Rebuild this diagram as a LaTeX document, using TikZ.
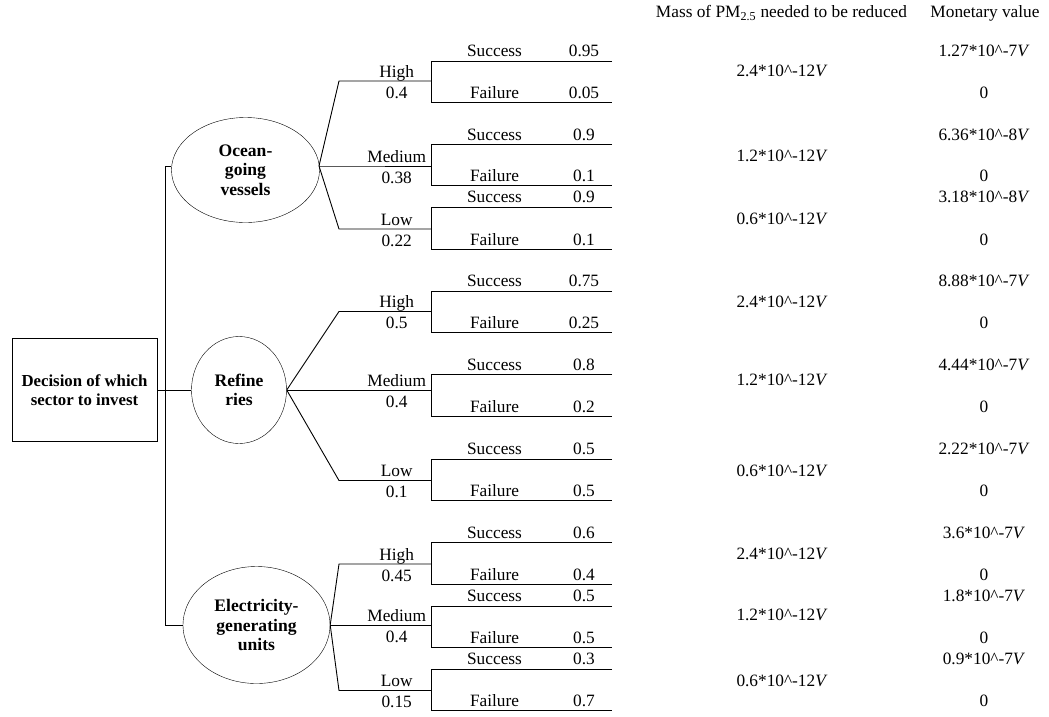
\documentclass[tikz,border=0pt]{standalone}
\usepackage{fontspec}
\setmainfont{Liberation Serif}
\usetikzlibrary{shapes.geometric}
\tikzset{
  txt/.style={font=\fontsize{17.3}{19}\selectfont, inner sep=0pt, anchor=base},
  chance/.style={draw, ellipse, inner sep=0pt, align=center, font=\fontsize{17.6}{19.5}\selectfont\bfseries},
  decbox/.style={draw, rectangle, inner sep=0pt, align=center, font=\fontsize{16.8}{18.5}\selectfont\bfseries},
  ln/.style={draw=black, line width=0.9pt},
}
\begin{document}
\begin{tikzpicture}[x=1pt, y=-1pt]
\useasboundingbox (0,0) rectangle (1049,716);
% headers
\node[txt] (hmass) at (781.5,17.5) {Mass of PM\textsubscript{2.5} needed to be reduced};
\node[txt] (hmon) at (985,17.5) {Monetary value};
% decision box and chance nodes
\node[decbox, minimum width=145pt, minimum height=103pt] (dec) at (84.5,390) {Decision of which\\sector to invest};
\node[chance, minimum width=148pt, minimum height=105pt] (ocean) at (245.5,170) {Ocean-\\going\\vessels};
\node[chance, minimum width=95pt, minimum height=107pt] (ref) at (239,390) {Refine\\ries};
\node[chance, minimum width=147pt, minimum height=117pt] (elec) at (256.5,625) {Electricity-\\generating\\units};
\coordinate (trunkTop) at (165.5,166);
\coordinate (trunkBot) at (165.5,625);
\coordinate (ocean-r) at (319,166);
\coordinate (ref-r) at (ref.east);
\coordinate (elec-r) at (elec.east);
\draw[ln] (trunkTop -| ocean.west) -- (trunkTop) -- (trunkBot) -- (elec.west);
\draw[ln] (dec.east) -- (ref.west);
% branches
\foreach \nm/\rt/\yl/\yt/\yb/\lvl/\p/\ps/\pf/\mass/\mon/\ex in {
  oh/ocean/81/61/102/High/0.4/0.95/0.05/2.4/1.27/7,
  om/ocean/166/144.5/185.5/Medium/0.38/0.9/0.1/1.2/6.36/8,
  ol/ocean/229/207/249/Low/0.22/0.9/0.1/0.6/3.18/8,
  rh/ref/311.5/291/332/High/0.5/0.75/0.25/2.4/8.88/7,
  rm/ref/390/374.5/416/Medium/0.4/0.8/0.2/1.2/4.44/7,
  rl/ref/480.5/459/500.5/Low/0.1/0.5/0.5/0.6/2.22/7,
  eh/elec/564/542.5/584.5/High/0.45/0.6/0.4/2.4/3.6/7,
  em/elec/625/606/647.5/Medium/0.4/0.5/0.5/1.2/1.8/7,
  el/elec/690.5/669/710/Low/0.15/0.3/0.7/0.6/0.9/7}{
  \coordinate (\nm-k) at (339,\yl);
  \coordinate (\nm-j) at (431.5,\yl);
  \coordinate (\nm-t) at (431.5,\yt);
  \coordinate (\nm-b) at (431.5,\yb);
  \coordinate (\nm-te) at (612,\yt);
  \coordinate (\nm-be) at (612,\yb);
  \draw[ln] (\rt-r) -- (\nm-k) -- (\nm-j);
  \draw[ln] (\nm-te) -- (\nm-t) -- (\nm-b) -- (\nm-be);
  \node[txt] (\nm-lv) at (396.7,\yl-4) {\lvl};
  \node[txt] (\nm-p) at (396.7,\yl+17) {\p};
  \node[txt] (\nm-s) at (494.5,\yt-4.5) {Success};
  \node[txt] (\nm-ps) at (584,\yt-4.5) {\ps};
  \node[txt] (\nm-f) at (494.5,\yb-4) {Failure};
  \node[txt] (\nm-pf) at (584,\yb-4) {\pf};
  \node[txt] (\nm-m) at (782,\yl-4.5) {\mass*10\textasciicircum-12\textit{V}};
  \node[txt] (\nm-v) at (984,\yt-4.5) {\mon*10\textasciicircum-\ex\textit{V}};
  \node[txt] (\nm-z) at (984,\yb-4) {0};
}
\end{tikzpicture}
\end{document}
